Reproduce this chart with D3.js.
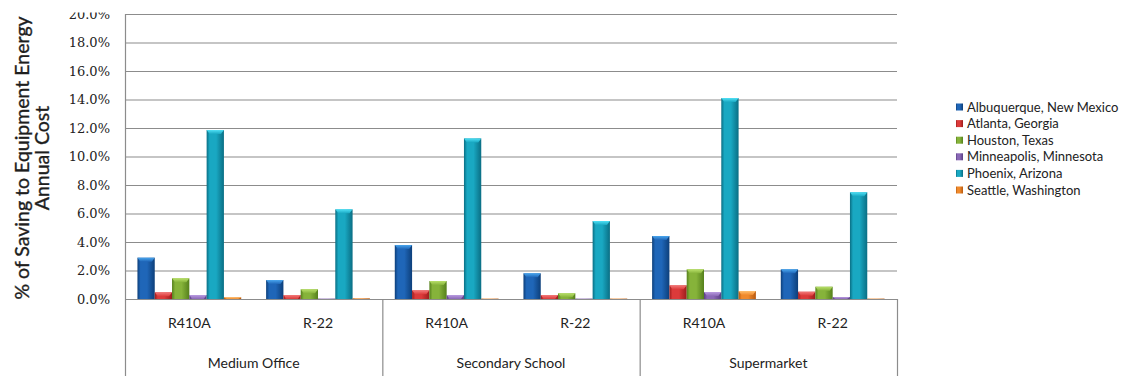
<!DOCTYPE html>
<html>
<head>
<meta charset="utf-8">
<script src="https://cdn.jsdelivr.net/npm/d3@7"></script>
<style>
  html, body { margin: 0; padding: 0; background: #fff; }
  svg { display: block; }
</style>
</head>
<body>
<svg id="chart" width="1128" height="376"></svg>
<script>
// Building types and refrigerants (two-level category axis)
const buildings = ["Medium Office", "Secondary School", "Supermarket"];
const refrigerants = ["R410A", "R-22"];

// Cities (series)
const cities = [
  "Albuquerque, New Mexico",
  "Atlanta, Georgia",
  "Houston, Texas",
  "Minneapolis, Minnesota",
  "Phoenix, Arizona",
  "Seattle, Washington"
];

// % saving per city, in category order:
// MO R410A, MO R-22, SS R410A, SS R-22, SM R410A, SM R-22
const albuquerque = [2.9, 1.33, 3.79, 1.8, 4.42, 2.08];
const atlanta     = [0.47, 0.28, 0.61, 0.28, 0.96, 0.51];
const houston     = [1.45, 0.68, 1.26, 0.4, 2.08, 0.86];
const minneapolis = [0.28, 0.03, 0.28, 0.03, 0.49, 0.14];
const phoenix     = [11.86, 6.29, 11.27, 5.47, 14.1, 7.49];
const seattle     = [0.12, 0.05, 0.03, 0.03, 0.56, 0.03];

const yTicks = [0, 2, 4, 6, 8, 10, 12, 14, 16, 18, 20];

const seriesValues = [albuquerque, atlanta, houston, minneapolis, phoenix, seattle];
const palette = [
  { base: "#1f66b8", dark: "#0d3f7a", light: "#49a6ee" },
  { base: "#dc3a3a", dark: "#9c1c1c", light: "#f27a7a" },
  { base: "#86b33a", dark: "#55801c", light: "#b9e06a" },
  { base: "#8a68b6", dark: "#5a3f84", light: "#b99be0" },
  { base: "#19a8c2", dark: "#0a6e84", light: "#4fe0f5" },
  { base: "#f08a2c", dark: "#b85a10", light: "#ffc070" }
];

const subcats = [];
buildings.forEach(b => refrigerants.forEach(r => subcats.push(b + "|" + r)));

const svg = d3.select("#chart");
const plotLeft = 125, plotRight = 897, plotTop = 14, zeroY = 299, plotBottom = 376;

const x0 = d3.scaleBand().domain(subcats).range([plotLeft, plotRight]).padding(0);
const x1 = d3.scaleBand().domain(d3.range(cities.length))
  .range([0, x0.bandwidth()]).paddingInner(0).paddingOuter(0.72);
const y = d3.scaleLinear().domain([0, 20]).range([zeroY, plotTop]);
const xb = d3.scaleBand().domain(buildings).range([plotLeft, plotRight]).padding(0);

// gradients for bevelled bars
const defs = svg.append("defs");
palette.forEach((c, i) => {
  const g = defs.append("linearGradient").attr("id", "bar" + i)
    .attr("x1", "0").attr("x2", "1").attr("y1", "0").attr("y2", "0");
  g.append("stop").attr("offset", "0%").attr("stop-color", c.dark);
  g.append("stop").attr("offset", "18%").attr("stop-color", c.base);
  g.append("stop").attr("offset", "55%").attr("stop-color", c.base);
  g.append("stop").attr("offset", "100%").attr("stop-color", c.dark);
  const t = defs.append("linearGradient").attr("id", "cap" + i)
    .attr("x1", "0").attr("x2", "0").attr("y1", "0").attr("y2", "1");
  t.append("stop").attr("offset", "0%").attr("stop-color", c.light);
  t.append("stop").attr("offset", "100%").attr("stop-color", c.base);
});

// gridlines
svg.append("g").selectAll("line").data(yTicks).join("line")
  .attr("x1", plotLeft).attr("x2", plotRight)
  .attr("y1", d => y(d) + 0.5).attr("y2", d => y(d) + 0.5)
  .attr("stroke", "#8c8c8c").attr("stroke-width", 1.2);

// y-axis tick labels
svg.append("g").selectAll("text").data(yTicks).join("text")
  .attr("x", 110).attr("y", d => y(d)).attr("dy", "0.36em")
  .attr("text-anchor", "end")
  .attr("font-family", "'DejaVu Serif', 'Liberation Serif', serif")
  .attr("font-size", 13).attr("fill", "#222")
  .text(d => d.toFixed(1) + "%");

// bars
const groups = svg.append("g").selectAll("g").data(subcats).join("g")
  .attr("transform", d => `translate(${x0(d)},0)`);

groups.each(function (sc, ci) {
  const g = d3.select(this);
  seriesValues.forEach((vals, si) => {
    const v = vals[ci];
    const bx = x1(si), bw = x1.bandwidth();
    const by = y(v), bh = zeroY - y(v);
    g.append("rect").attr("x", bx).attr("y", by)
      .attr("width", bw).attr("height", bh)
      .attr("fill", `url(#bar${si})`);
    const cap = Math.min(4, bh);
    if (cap > 1) {
      g.append("path")
        .attr("d", `M${bx},${by} L${bx + bw},${by} L${bx + bw - 3},${by + cap} L${bx + 3},${by + cap} Z`)
        .attr("fill", `url(#cap${si})`);
    }
  });
});

// axis frame
const axisStroke = "#8c8c8c";
svg.append("line").attr("x1", plotLeft + 0.5).attr("x2", plotLeft + 0.5)
  .attr("y1", plotTop).attr("y2", plotBottom).attr("stroke", axisStroke).attr("stroke-width", 1.2);
[xb("Secondary School"), xb("Supermarket"), plotRight].forEach(xv => {
  svg.append("line").attr("x1", xv + 0.5).attr("x2", xv + 0.5)
    .attr("y1", zeroY).attr("y2", plotBottom).attr("stroke", axisStroke).attr("stroke-width", 1.2);
});

// category labels
svg.append("g").selectAll("text").data(subcats).join("text")
  .attr("x", d => x0(d) + x0.bandwidth() / 2).attr("y", 323).attr("dy", "0.36em")
  .attr("text-anchor", "middle")
  .attr("font-family", "Lato, 'Open Sans', sans-serif")
  .attr("font-size", 14).attr("fill", "#222")
  .text(d => d.split("|")[1]);

svg.append("g").selectAll("text").data(buildings).join("text")
  .attr("x", d => xb(d) + xb.bandwidth() / 2).attr("y", 363).attr("dy", "0.36em")
  .attr("text-anchor", "middle")
  .attr("font-family", "Lato, 'Open Sans', sans-serif")
  .attr("font-size", 14).attr("fill", "#222")
  .text(d => d);

// top edge of the frame hides the upper part of the highest tick label
svg.append("rect").attr("x", 0).attr("y", 0).attr("width", 120).attr("height", 12.5).attr("fill", "#fff");

// y-axis title
const title = svg.append("text")
  .attr("transform", "translate(22,158) rotate(-90)")
  .attr("text-anchor", "middle")
  .attr("font-family", "Lato, 'Open Sans', sans-serif")
  .attr("font-size", 19.5).attr("font-weight", "normal").attr("fill", "#1e1e1e")
  .attr("stroke", "#1e1e1e").attr("stroke-width", 0.35);
title.append("tspan").attr("x", 0).attr("dy", "0.36em").text("% of Saving to Equipment Energy");
title.append("tspan").attr("x", 0).attr("dy", 19.5).text("Annual Cost");

// legend
const legend = svg.append("g").attr("transform", "translate(956,107)");
const li = legend.selectAll("g").data(cities).join("g")
  .attr("transform", (d, i) => `translate(0,${i * 16.6})`);
li.append("rect").attr("x", 0).attr("y", -3.5).attr("width", 7).attr("height", 7)
  .attr("fill", (d, i) => `url(#bar${i})`);
li.append("text").attr("x", 11).attr("y", 0).attr("dy", "0.36em")
  .attr("font-family", "Lato, 'Open Sans', sans-serif")
  .attr("font-size", 13).attr("fill", "#222")
  .text(d => d);
</script>
</body>
</html>
